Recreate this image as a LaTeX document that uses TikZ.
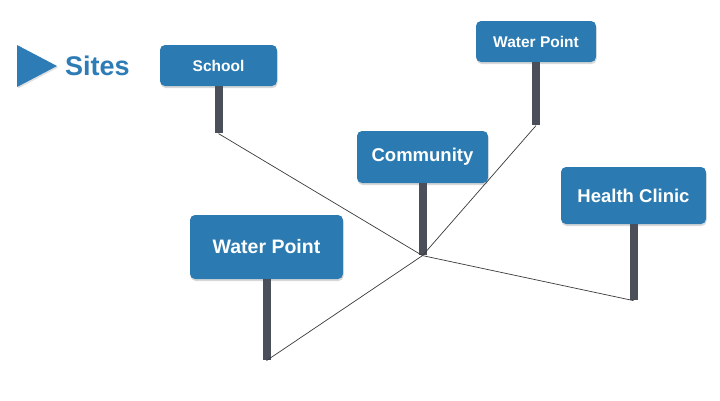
\documentclass[tikz,border=0pt]{standalone}
\usepackage{fontspec}
\setmainfont{Liberation Sans}
\usetikzlibrary{shadows}
\definecolor{signblue}{HTML}{2B7BB2}
\definecolor{titleblue}{HTML}{2E7CB6}
\definecolor{postgray}{HTML}{4B4F59}
\definecolor{linegray}{HTML}{3A3A3A}
\tikzset{
  sign/.style={rectangle, rounded corners=5pt, fill=signblue, text=white,
    font=\bfseries, inner sep=0pt,
    drop shadow={opacity=0.3, shadow xshift=0.6pt, shadow yshift=-2pt}},
  post/.style={rectangle, fill=postgray, minimum width=8pt, inner sep=0pt, anchor=north},
  link/.style={draw=linegray, line width=0.7pt}
}
\begin{document}
\begin{tikzpicture}[x=1pt,y=-1pt]
\useasboundingbox[fill=white] (0,0) rectangle (720,400);
% title
\fill[titleblue, drop shadow={opacity=0.25, shadow xshift=1pt, shadow yshift=-1.5pt}] (17,45) -- (57,66) -- (17,87) -- cycle;
\node[text=titleblue, font=\fontsize{27}{30}\selectfont\bfseries, anchor=west, inner sep=0pt] (title) at (65,66) {Sites};
% signs
\node[sign, minimum width=117pt, minimum height=41pt, font=\fontsize{15.5}{18}\selectfont\bfseries] (school) at (218.5,65.5) {School};
\node[sign, minimum width=120pt, minimum height=41pt, font=\fontsize{15.5}{18}\selectfont\bfseries] (wptop) at (536,41.5) {Water Point};
\node[sign, minimum width=131pt, minimum height=52pt, font=\fontsize{18.5}{22}\selectfont\bfseries] (comm) at (422.5,157) {Community};
\node[sign, minimum width=145pt, minimum height=57pt, font=\fontsize{18.5}{22}\selectfont\bfseries] (health) at (633.5,195.5) {Health Clinic};
\node[sign, minimum width=153pt, minimum height=64pt, font=\fontsize{19.5}{23}\selectfont\bfseries] (wplow) at (266.5,247) {Water Point};
% posts
\node[post, minimum height=47pt] (schoolpost) at (school.south) {};
\node[post, minimum height=63pt] (wptoppost) at (wptop.south) {};
\node[post, minimum height=72pt] (commpost) at (comm.south) {};
\node[post, minimum height=76pt] (healthpost) at (health.south) {};
\node[post, minimum height=81pt] (wplowpost) at (wplow.south) {};
% connectors
\draw[link] (schoolpost.south) -- (commpost.south);
\draw[link] (commpost.south) -- (wptoppost.south);
\draw[link] (commpost.south) -- (healthpost.south);
\draw[link] (commpost.south) -- (wplowpost.south);
\end{tikzpicture}
\end{document}
